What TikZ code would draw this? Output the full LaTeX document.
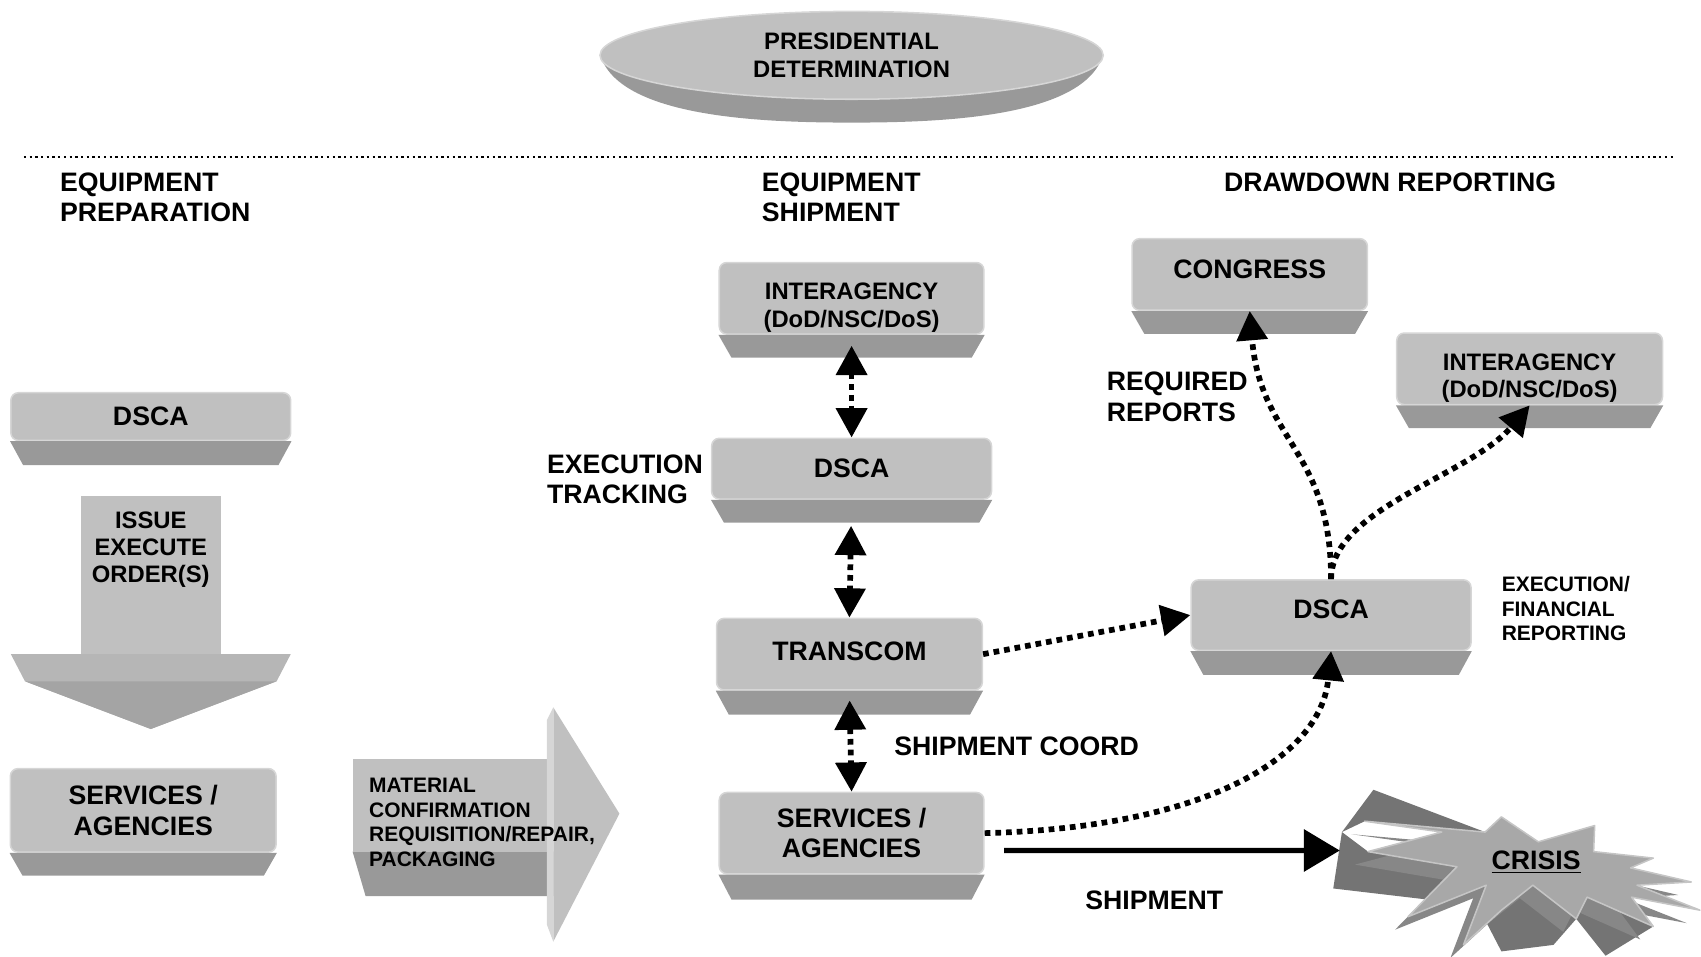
\documentclass[tikz,border=0pt]{standalone}
\usepackage{fontspec}
\setmainfont{Liberation Sans}
\usetikzlibrary{arrows.meta,calc,shapes.geometric}

\definecolor{facegrey}{HTML}{C0C0C0}
\definecolor{sidegrey}{HTML}{999999}
\definecolor{edgegrey}{HTML}{D6D6D6}
\definecolor{headlight}{HTML}{B6B6B6}
\definecolor{headdark}{HTML}{A4A4A4}
\definecolor{crisisface}{HTML}{A8A8A8}
\definecolor{crisisdark}{HTML}{747474}
\definecolor{crisismid}{HTML}{878787}

\tikzset{
  lbig/.style={font=\fontsize{14}{16}\selectfont\bfseries, align=center},
  lmid/.style={font=\fontsize{12.5}{14.2}\selectfont\bfseries, align=center},
  lsmall/.style={font=\fontsize{11}{12.8}\selectfont\bfseries, align=left},
  panel/.style 2 args={rectangle, rounded corners=4pt, fill=facegrey, draw=edgegrey,
    line width=0.8pt, minimum width=#1*0.02cm, minimum height=#2*0.02cm, inner sep=0pt},
  dotarrow/.style={line width=3pt, dash pattern=on 3pt off 2.6pt},
}

\def\crisisstar{(1258,757) -- (1329,767) -- (1261,785) -- (1343,799) -- (1298,845)
  -- (1370,816) -- (1349,871) -- (1384,839) -- (1413,816) -- (1453,847) -- (1463,827)
  -- (1524,854) -- (1504,827) -- (1567,839) -- (1509,816) -- (1559,813) -- (1503,800)
  -- (1524,791) -- (1469,785) -- (1470,761) -- (1418,776) -- (1384,753) -- (1369,767) -- cycle}

\begin{document}
\begin{tikzpicture}[x=0.02cm, y=-0.02cm, >={Triangle[width=0.56cm,length=0.54cm]}]
  \useasboundingbox (0,0) rectangle (1568,882);

  % presidential determination
  \fill [sidegrey] (553,50) .. controls (570,108) and (700,113) .. (785,113)
    .. controls (870,113) and (1000,108) .. (1017,50) -- cycle;
  \node [ellipse, fill=facegrey, draw=edgegrey, line width=0.8pt, minimum width=9.28cm,
    minimum height=1.62cm, lmid] (pd) at (785,51) {PRESIDENTIAL\\DETERMINATION};
  \draw [line width=1.2pt, dash pattern=on 1.2pt off 1.8pt] (22,145) -- (1545,145);

  % column headings
  \node [lbig, align=left, anchor=west, inner sep=0pt] (hprep) at (55,182) {EQUIPMENT\\PREPARATION};
  \node [lbig, align=left, anchor=west, inner sep=0pt] (hship) at (702,182) {EQUIPMENT\\SHIPMENT};
  \node [lbig, anchor=west, inner sep=0pt] (hrep) at (1128,168) {DRAWDOWN REPORTING};

  % preparation
  \node [panel={258}{44}, lbig] (dscaL) at (139,384) {DSCA};
  \fill [facegrey] (75,457) rectangle (204,603);
  \fill [headlight] (10,603) -- (268,603) -- (255,628) -- (139,672) -- (23,628) -- cycle;
  \fill [headdark] (23,628) -- (255,628) -- (139,672) -- cycle;
  \node [lmid] (issue) at (139,507) {ISSUE\\EXECUTE\\ORDER(S)};
  \node [panel={245}{77}, lbig] (svcL) at (132,747) {SERVICES /\\AGENCIES};

  \fill [sidegrey] (325,785) -- (510,785) -- (510,826) -- (337,826) -- cycle;
  \fill [facegrey] (325,700) rectangle (510,785);
  \fill [facegrey] (510,652) -- (571,750) -- (510,868) -- cycle;
  \fill [edgegrey] (504,664) -- (510,652) -- (510,868) -- (504,852) -- cycle;
  \node [lsmall, anchor=west, inner sep=0pt] (mat) at (340,758)
    {MATERIAL\\CONFIRMATION\\REQUISITION/REPAIR,\\PACKAGING};

  % shipment
  \node [panel={244}{66}, lmid, text height=1.15cm] (iaM) at (785,275) {INTERAGENCY\\(DoD/NSC/DoS)};
  \node [panel={258}{56}, lbig] (dscaM) at (785,432) {DSCA};
  \node [panel={245}{66}, lbig, text depth=0.1cm] (transcom) at (783,603) {TRANSCOM};
  \node [panel={244}{75}, lbig] (svcM) at (785,768) {SERVICES /\\AGENCIES};
  \node [lbig, align=left, anchor=west, inner sep=0pt] (track) at (504,442) {EXECUTION\\TRACKING};
  \node [lbig, anchor=west, inner sep=0pt] (coord) at (824,688) {SHIPMENT COORD};

  % reporting
  \node [panel={217}{66}, lbig, text depth=0.2cm] (congress) at (1152,253) {CONGRESS};
  \node [panel={245}{66}, lmid, text height=1.15cm] (iaR) at (1410,340) {INTERAGENCY\\(DoD/NSC/DoS)};
  \node [panel={258}{65}, lbig, text depth=0.2cm] (dscaR) at (1227,567) {DSCA};
  \node [lbig, align=left, anchor=west, inner sep=0pt] (req) at (1020,366) {REQUIRED\\REPORTS};
  \node [lsmall, anchor=west, inner sep=0pt] (finrep) at (1384,561) {EXECUTION/\\FINANCIAL\\REPORTING};

  % bevels under the panels
  \foreach \n/\d in {dscaL/22, svcL/21, iaM/21, dscaM/21, transcom/22, svcM/23, congress/21, iaR/21, dscaR/22}
    \fill [sidegrey] (\n.south west) -- (\n.south east) -- ++(-12,\d) -- ($(\n.south west)+(12,\d)$) -- cycle;

  % crisis
  \fill [crisisdark] (1266,728) -- (1369,767) -- (1258,757) -- (1237,767) -- cycle;
  \fill [crisisdark] (1237,767) -- (1261,785) -- (1343,799) -- (1331,831) -- (1229,819) -- cycle;
  \fill [crisisdark] (1384,839) -- (1413,816) -- (1453,847) -- (1432,871) -- (1384,877) -- (1370,850) -- cycle;
  \fill [crisisdark] (1453,847) -- (1480,881) -- (1524,854) -- (1504,827) -- (1463,827) -- cycle;
  \begin{scope}[shift={(-12,12)}]
    \fill [crisismid] \crisisstar;
  \end{scope}
  \fill [crisisface] \crisisstar;
  \draw [edgegrey!80!gray, line width=0.8pt, line join=round] \crisisstar;
  \node [lbig] (crisis) at (1416,795) {\underline{CRISIS}};
  \coordinate (crisisTip) at (1235,784);

  % connectors
  \draw [dotarrow, <->, shorten <=0.2cm] (iaM.south) -- (dscaM.north);
  \draw [dotarrow, <->, shorten <=0.48cm] (dscaM.south) -- (transcom.north);
  \draw [dotarrow, <->, shorten <=0.18cm] (transcom.south) -- (svcM.north);
  \draw [dotarrow, ->] (transcom.east) -- (dscaR.west);
  \draw [dotarrow, ->] (svcM.east) .. controls +(200,-5) and +(-10,100) .. (dscaR.south);
  \draw [dotarrow, ->] (dscaR.north) .. controls +(0,-120) and +(10,120) .. (congress.south);
  \draw [dotarrow, ->] (dscaR.north) .. controls +(0,-65) and +(-55,65) .. (iaR.south);
  \draw [line width=0.1cm, -{Triangle[width=0.76cm,length=0.66cm]}]
    ([xshift=0.36cm,yshift=-0.32cm]svcM.east) -- (crisisTip);
  \node [lbig] (ship) at (1064,830) {SHIPMENT};
\end{tikzpicture}
\end{document}
